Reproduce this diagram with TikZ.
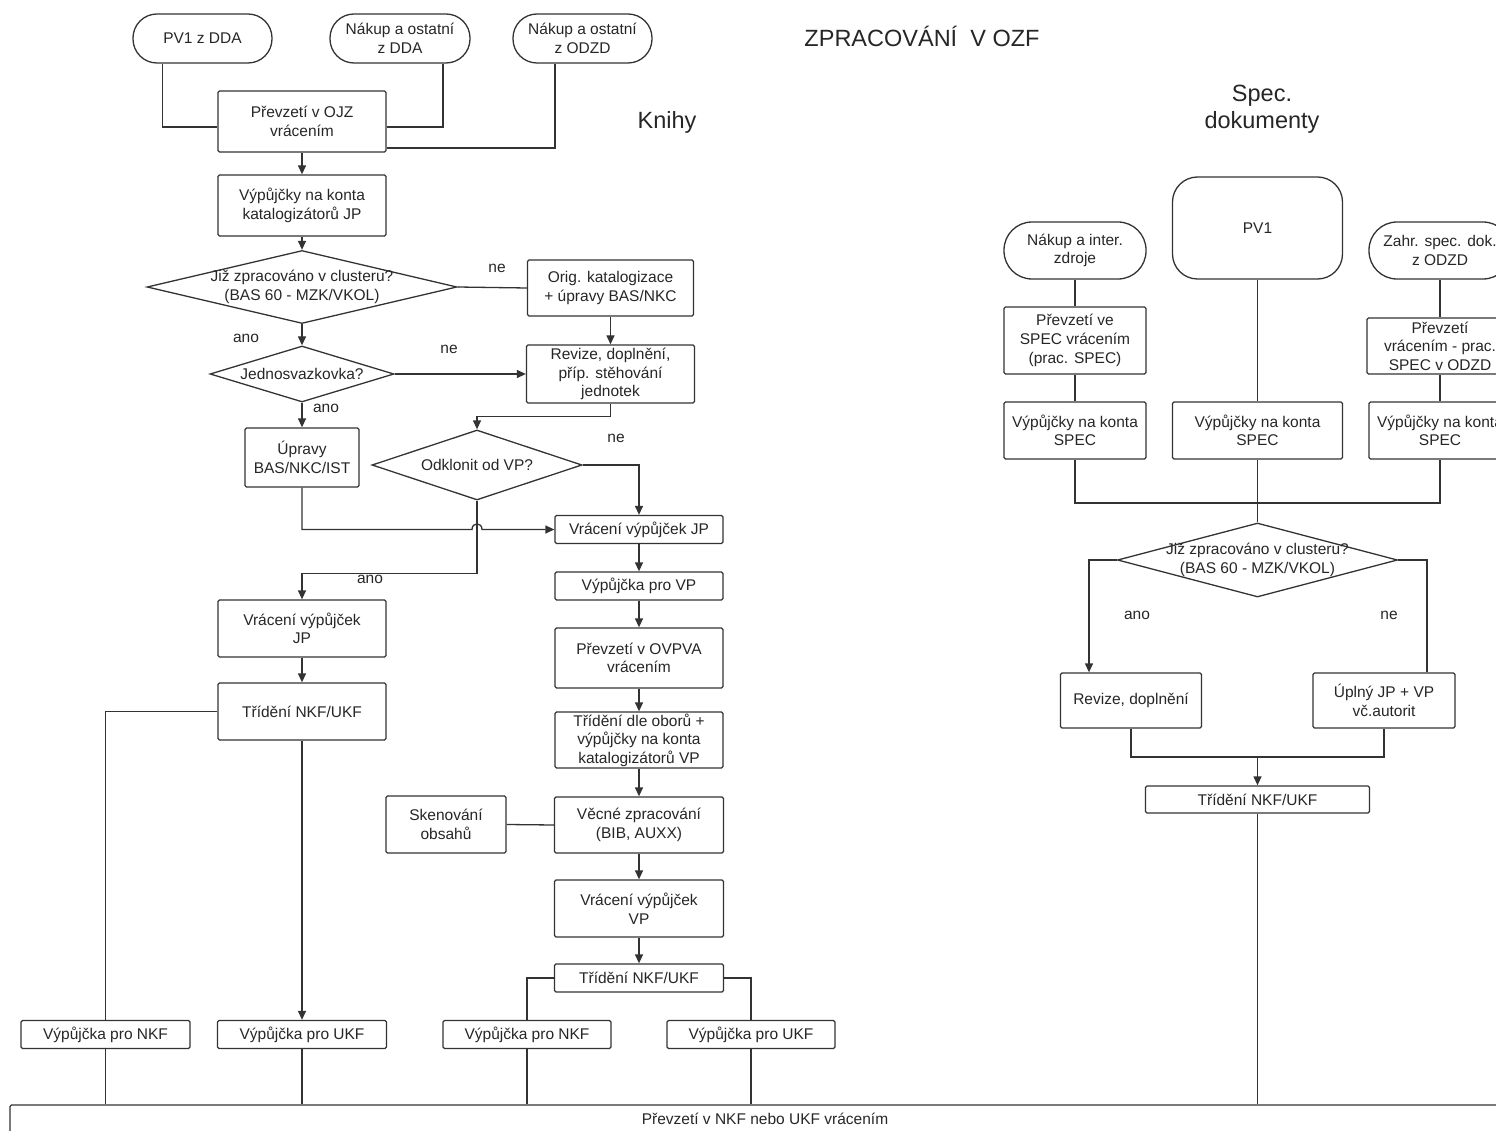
\documentclass[tikz,border=0pt]{standalone}
\usepackage{fontspec}
\setmainfont{Liberation Sans}
\usetikzlibrary{arrows.meta,shapes.geometric}
\begin{document}
\begin{tikzpicture}[x=1pt,y=-1pt,
 every node/.style={font=\fontsize{15.5}{18.6}\selectfont, text=black!85},
 ln/.style={draw=black!80, line width=1.3pt},
 arr/.style={ln, -{Triangle[length=9pt,width=8pt]}},
 box/.style={draw=black!80, line width=1.3pt, rounded corners=1.5pt, align=center, inner sep=0pt},
 term/.style={box, rounded corners=24pt},
 dia/.style={draw=black!80, line width=1.3pt, shape=diamond, inner sep=0pt},
 lbl/.style={inner sep=0pt, align=center},
 big/.style={font=\fontsize{23.5}{27}\selectfont, align=center, inner sep=0pt},
]
\useasboundingbox (0,0) rectangle (1496,1131);
\clip (0,0) rectangle (1496,1131);

% titles
\node[big] (title) at (922,36) {ZPRACOVÁNÍ\ \ V OZF};
\node[big] (knihy) at (667,122) {Knihy};
\node[big] (spec) at (1262,109) {Spec.\\dokumenty};

% ---------- left part (Knihy) ----------
\node[term, minimum width=139, minimum height=49] (t1) at (202.5,38.5) {PV1 z DDA};
\node[term, minimum width=140, minimum height=49] (t2) at (400,38.5) {Nákup a ostatní\\z DDA};
\node[term, minimum width=139, minimum height=49] (t3) at (582.5,38.5) {Nákup a ostatní\\z ODZD};
\node[box, minimum width=168, minimum height=61] (ojz) at (302,121.5) {Převzetí v OJZ\\vrácením};
\node[box, minimum width=168, minimum height=61] (vjp1) at (302,205.5) {Výpůjčky na konta\\katalogizátorů JP};
\node[dia, minimum width=310, minimum height=73, label={[lbl]center:{Již zpracováno v clusteru?\\(BAS 60 - MZK/VKOL)}}] (d1) at (302,287) {};
\node[box, minimum width=166, minimum height=56] (orig) at (610.5,288) {Orig. katalogizace\\+ úpravy BAS/NKC};
\node[box, minimum width=168, minimum height=58] (rev) at (610.5,374) {Revize, doplnění,\\příp. stěhování\\jednotek};
\node[dia, minimum width=184, minimum height=56, label={[lbl]center:{Jednosvazkovka?}}] (d2) at (302,374) {};
\node[box, minimum width=114, minimum height=59] (upr) at (302,457.5) {Úpravy\\BAS/NKC/IST};
\node[dia, minimum width=210, minimum height=70, label={[lbl]center:{Odklonit od VP?}}] (d3) at (477,465) {};
\node[box, minimum width=168, minimum height=28] (vjpr) at (639,529.5) {Vrácení výpůjček JP};
\node[box, minimum width=168, minimum height=28] (vpvp) at (639,586) {Výpůjčka pro VP};
\node[box, minimum width=168, minimum height=60] (ovp) at (639,658) {Převzetí v OVPVA\\vrácením};
\node[box, minimum width=168, minimum height=56] (tdo) at (639,740) {Třídění dle oborů +\\výpůjčky na konta\\katalogizátorů VP};
\node[box, minimum width=120, minimum height=57] (sken) at (446,824.5) {Skenování\\obsahů};
\node[box, minimum width=169, minimum height=56] (vec) at (639,825) {Věcné zpracování\\(BIB, AUXX)};
\node[box, minimum width=169, minimum height=57] (vvp) at (639,908.5) {Vrácení výpůjček\\VP};
\node[box, minimum width=169, minimum height=28] (tmid) at (639,978) {Třídění NKF/UKF};
\node[box, minimum width=168, minimum height=28] (vnkf2) at (527,1034.5) {Výpůjčka pro NKF};
\node[box, minimum width=168, minimum height=28] (vukf2) at (751,1034.5) {Výpůjčka pro UKF};
\node[box, minimum width=168, minimum height=57] (vjl) at (302,628.5) {Vrácení výpůjček\\JP};
\node[box, minimum width=168, minimum height=57] (tl) at (302,711.5) {Třídění NKF/UKF};
\node[box, minimum width=169, minimum height=28] (vnkf1) at (105.5,1034.5) {Výpůjčka pro NKF};
\node[box, minimum width=169, minimum height=28] (vukf1) at (302,1034.5) {Výpůjčka pro UKF};
\node[box, minimum width=1510, minimum height=28] (bot) at (765,1119) {Převzetí v NKF nebo UKF vrácením};

% labels
\node[lbl] (l1) at (497,268) {ne};
\node[lbl] (l2) at (246,338) {ano};
\node[lbl] (l3) at (449,349) {ne};
\node[lbl] (l4) at (326,408) {ano};
\node[lbl] (l5) at (616,438) {ne};
\node[lbl] (l6) at (370,579) {ano};

% connectors left
\draw[ln] ([xshift=-40pt]t1.south) |- ([yshift=-5.5pt]ojz.west);
\draw[ln] ([xshift=43pt]t2.south) |- ([yshift=-5.5pt]ojz.east);
\draw[ln] ([xshift=-27.5pt]t3.south) |- ([yshift=-26.5pt]ojz.east);
\draw[arr] (ojz.south) -- (vjp1.north);
\draw[arr] (vjp1.south) -- (d1.north);
\draw[ln] (d1.east) -- (orig.west);
\draw[arr] (d1.south) -- (d2.north);
\draw[arr] (d2.east) -- (rev.west);
\draw[arr] (orig.south) -- (rev.north);
\draw[arr] (d2.south) -- (upr.north);
\draw[arr] (rev.south) -- ++(0,13) -| (d3.north);
\draw[arr] (d3.east) -| (vjpr.north);
\draw[arr] (upr.south) |- (472,529.5) .. controls (472,522) and (482,522) .. (482,529.5) -- (vjpr.west);
\draw[arr] (d3.south) -- ++(0,73) -| (vjl.north);
\draw[arr] (vjl.south) -- (tl.north);
\draw[ln] (tl.west) -| (vnkf1.north);
\draw[arr] (tl.south) -- (vukf1.north);
\draw[arr] (vjpr.south) -- (vpvp.north);
\draw[arr] (vpvp.south) -- (ovp.north);
\draw[arr] (ovp.south) -- (tdo.north);
\draw[arr] (tdo.south) -- (vec.north);
\draw[ln] (sken.east) -- (vec.west);
\draw[arr] (vec.south) -- (vvp.north);
\draw[arr] (vvp.south) -- (tmid.north);
\draw[ln] (tmid.west) -| (vnkf2.north);
\draw[ln] (tmid.east) -| (vukf2.north);
\draw[ln] (vnkf1.south) -- (vnkf1.south |- bot.north);
\draw[ln] (vukf1.south) -- (vukf1.south |- bot.north);
\draw[ln] (vnkf2.south) -- (vnkf2.south |- bot.north);
\draw[ln] (vukf2.south) -- (vukf2.south |- bot.north);

% ---------- right part (Spec. dokumenty) ----------
\node[term, rounded corners=28pt, minimum width=142, minimum height=57] (rt1) at (1075,250.5) {Nákup a inter.\\zdroje};
\node[box, rounded corners=25pt, minimum width=170, minimum height=102] (rpv1) at (1257.5,228) {PV1};
\node[term, rounded corners=28pt, minimum width=142, minimum height=57] (rt3) at (1440,250.5) {Zahr. spec. dok.\\z ODZD};
\node[box, minimum width=142, minimum height=67] (rspec1) at (1075,340.5) {Převzetí ve\\SPEC vrácením\\(prac. SPEC)};
\node[box, minimum width=146, minimum height=56] (rspec3) at (1440,346) {Převzetí\\vrácením - prac.\\SPEC v ODZD};
\node[box, minimum width=142, minimum height=57] (rv1) at (1075,430.5) {Výpůjčky na konta\\SPEC};
\node[box, minimum width=170, minimum height=57] (rv2) at (1257.5,430.5) {Výpůjčky na konta\\SPEC};
\node[box, minimum width=142, minimum height=57] (rv3) at (1440,430.5) {Výpůjčky na konta\\SPEC};
\node[dia, minimum width=280, minimum height=74, label={[lbl]center:{Již zpracováno v clusteru?\\(BAS 60 - MZK/VKOL)}}] (rd) at (1257.5,560) {};
\node[box, minimum width=141, minimum height=55] (rrev) at (1131,700.5) {Revize, doplnění};
\node[box, minimum width=142, minimum height=55] (rupl) at (1384,700.5) {Úplný JP + VP\\vč.autorit};
\node[box, minimum width=224, minimum height=27] (rtri) at (1257.5,799.5) {Třídění NKF/UKF};
\node[lbl] (l7) at (1137,615) {ano};
\node[lbl] (l8) at (1389,615) {ne};
\coordinate (mrg) at (1257.5,503);
\coordinate (mrg2) at (1257.5,757);

\draw[ln] (rt1.south) -- (rspec1.north);
\draw[ln] (rspec1.south) -- (rv1.north);
\draw[ln] (rpv1.south) -- (rv2.north);
\draw[ln] (rt3.south) -- (rspec3.north);
\draw[ln] (rspec3.south) -- (rv3.north);
\draw[ln] (rv1.south) |- (mrg) -| (rv3.south);
\draw[ln] (rv2.south) -- (rd.north);
\draw[arr] (rd.west) -| ([xshift=-42pt]rrev.north);
\draw[ln] (rd.east) -| ([xshift=43pt]rupl.north);
\draw[ln] (rrev.south) |- (mrg2) -| (rupl.south);
\draw[arr] (mrg2) -- (rtri.north);
\draw[ln] (rtri.south) -- (rtri.south |- bot.north);
\end{tikzpicture}
\end{document}
